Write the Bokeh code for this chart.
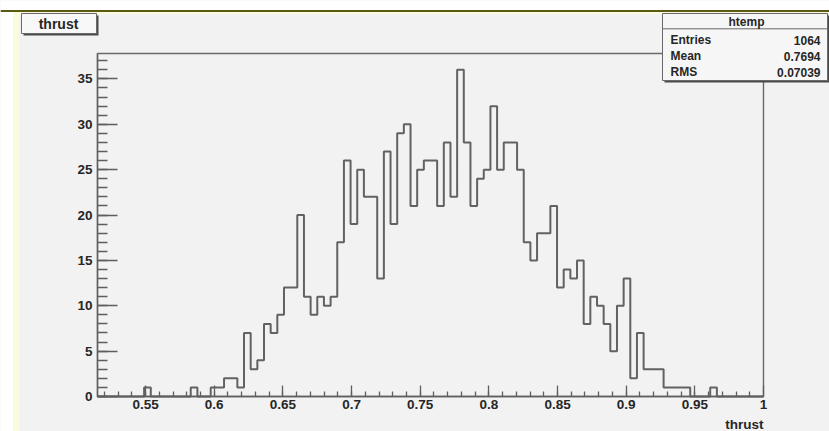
import numpy as np
from bokeh.plotting import figure
from bokeh.models import FixedTicker, Label, Range1d
from bokeh.embed import file_html
from bokeh.resources import INLINE

# ---------------- data ----------------
bin_lo = 0.515
bin_hi = 1.0
counts = [0, 0, 0, 0, 0, 0, 0, 1, 0, 0,
          0, 0, 0, 0, 1, 0, 0, 1, 1, 2,
          2, 1, 7, 3, 4, 8, 7, 9, 12, 12,
          20, 11, 9, 11, 10, 11, 17, 26, 19, 25,
          22, 22, 13, 27, 19, 29, 30, 21, 25, 26,
          26, 21, 28, 22, 36, 28, 21, 24, 25, 32,
          25, 28, 28, 25, 17, 15, 18, 18, 21, 12,
          14, 13, 15, 8, 11, 10, 8, 5, 10, 13,
          2, 7, 3, 3, 3, 1, 1, 1, 1, 0,
          0, 0, 1, 0, 0, 0, 0, 0, 0, 0]
xtick_values = [0.55, 0.6, 0.65, 0.7, 0.75, 0.8, 0.85, 0.9, 0.95, 1.0]
xtick_labels = ["0.55", "0.6", "0.65", "0.7", "0.75", "0.8", "0.85", "0.9", "0.95", "1"]
ytick_values = [0, 5, 10, 15, 20, 25, 30, 35]
hist_name = "htemp"
title_text = "thrust"
x_title = "thrust"
stats_names = ["Entries", "Mean", "RMS"]
stats_values = [str(int(sum(counts))), "0.7694", "0.07039"]

# ---------------- layout (ROOT canvas in page pixels) ----------------
W, H = 829, 431
FL, FR, FT, FB = 97, 763, 53, 396     # frame edges in page pixels
nb = len(counts)
edges = np.linspace(bin_lo, bin_hi, nb + 1)
ymax = max(counts) * 1.05
sx = (bin_hi - bin_lo) / (FR - FL)
sy = ymax / (FB - FT)
x0 = bin_lo - FL * sx
x1 = bin_hi + (W - FR) * sx
y0 = -(H - FB) * sy
y1 = ymax + FT * sy

def X(px):
    return x0 + px * sx

def Y(py):
    return y1 - py * sy

p = figure(width=W, height=H, x_range=Range1d(x0, x1), y_range=Range1d(y0, y1),
           output_backend="svg", toolbar_location=None, title=None,
           min_border=0, min_border_left=0, min_border_right=0,
           min_border_top=0, min_border_bottom=0)
CANVAS = "#f2f2f2"
p.border_fill_color = CANVAS
p.background_fill_color = CANVAS
p.outline_line_color = None
p.xgrid.visible = False
p.ygrid.visible = False

GRAY = "#5e5e5e"
LBL = "#262626"
FONT = "Liberation Sans"

# ---------------- canvas chrome ----------------
p.quad(left=X(0), right=X(W), top=Y(0), bottom=Y(9.5), fill_color="white", line_alpha=0)
p.quad(left=X(0), right=X(W), top=Y(9.5), bottom=Y(11.5), fill_color="#5a5a14", line_alpha=0)
p.quad(left=X(0), right=X(13), top=Y(11.5), bottom=Y(H), fill_color="white", line_alpha=0)
p.quad(left=X(13), right=X(W), top=Y(11.5), bottom=Y(13.5), fill_color="#fafadc", line_alpha=0)
p.quad(left=X(13), right=X(19), top=Y(11.5), bottom=Y(H), fill_color="#fafadc", line_alpha=0)

# ROOT frame
p.quad(left=bin_lo, right=bin_hi, bottom=0, top=ymax, fill_color=CANVAS,
       line_color="#6a6a6a", line_width=1.4)

# histogram outline
p.step(x=edges, y=np.append(counts, counts[-1]), mode="after", line_color="#626262", line_width=2)

# axes at the frame edges
p.xaxis.fixed_location = 0
p.yaxis.fixed_location = bin_lo
p.xaxis.bounds = (bin_lo, bin_hi)
p.yaxis.bounds = (0, ymax)
xminor = [round(0.52 + 0.01 * i, 2) for i in range(48)]
p.xaxis.ticker = FixedTicker(ticks=xtick_values, minor_ticks=xminor)
p.xaxis.major_label_overrides = {v: l for v, l in zip(xtick_values, xtick_labels)}
p.yaxis.ticker = FixedTicker(ticks=ytick_values, minor_ticks=list(range(0, 38)))

for ax in (p.xaxis, p.yaxis):
    ax.axis_line_color = GRAY
    ax.axis_line_width = 1.4
    ax.major_tick_line_color = GRAY
    ax.minor_tick_line_color = GRAY
    ax.major_tick_line_width = 1.3
    ax.minor_tick_line_width = 1.3
    ax.major_tick_out = 0
    ax.minor_tick_out = 0
    ax.major_label_text_font = FONT
    ax.major_label_text_font_style = "bold"
    ax.major_label_text_font_size = "13.5px"
    ax.major_label_text_color = LBL
p.xaxis.major_tick_in = 11
p.xaxis.minor_tick_in = 5
p.xaxis.major_label_standoff = 3
p.yaxis.major_tick_in = 20
p.yaxis.minor_tick_in = 10
p.yaxis.major_label_standoff = 5

# title box
p.quad(left=X(23), right=X(98), top=Y(15), bottom=Y(35), fill_color="#4a4a4a", line_alpha=0)
p.quad(left=X(21), right=X(96), top=Y(13), bottom=Y(33), fill_color="#f8f8f8",
       line_color="#6a6a6a", line_width=1)
p.add_layout(Label(x=X(58), y=Y(23.5), text=title_text, text_align="center", text_baseline="middle",
                   text_font=FONT, text_font_style="bold", text_font_size="14px", text_color=LBL))

# stats box
p.quad(left=X(664), right=X(W + 5), top=Y(15), bottom=Y(82), fill_color="#4a4a4a", line_alpha=0)
p.quad(left=X(662), right=X(827), top=Y(13), bottom=Y(80), fill_color="#f6f6f6",
       line_color="#6a6a6a", line_width=1)
p.segment(x0=X(662), x1=X(827), y0=Y(28.3), y1=Y(28.3), line_color="#6a6a6a", line_width=1)
p.add_layout(Label(x=X(746), y=Y(21), text=hist_name, text_align="center", text_baseline="middle",
                   text_font=FONT, text_font_style="bold", text_font_size="12px", text_color=LBL))
for i, (nm, vl) in enumerate(zip(stats_names, stats_values)):
    yy = Y(39.5 + 16.2 * i)
    p.add_layout(Label(x=X(670), y=yy, text=nm, text_align="left", text_baseline="middle",
                       text_font=FONT, text_font_style="bold", text_font_size="12px", text_color=LBL))
    p.add_layout(Label(x=X(820), y=yy, text=vl, text_align="right", text_baseline="middle",
                       text_font=FONT, text_font_style="bold", text_font_size="12px", text_color=LBL))

# x axis title (right aligned at axis end)
p.add_layout(Label(x=bin_hi, y=Y(423.5), text=x_title, text_align="right", text_baseline="middle",
                   text_font=FONT, text_font_style="bold", text_font_size="13.5px", text_color=LBL))

open("out.html", "w").write(file_html(p, INLINE))
